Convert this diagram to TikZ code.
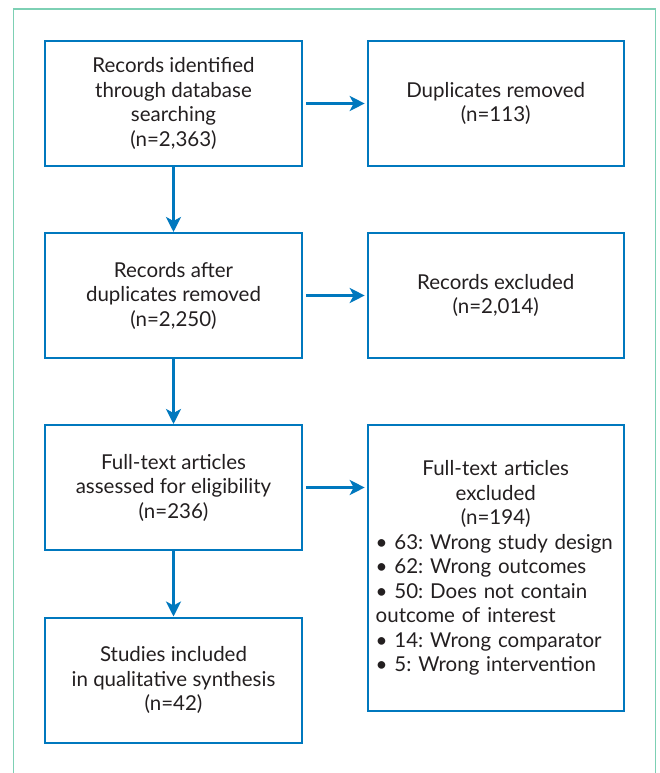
\documentclass[tikz,border=0pt]{standalone}
\usepackage{fontspec}
\setmainfont{Lato}
\usetikzlibrary{arrows.meta}
\definecolor{boxblue}{RGB}{0,120,190}
\definecolor{frameteal}{RGB}{125,208,180}
\definecolor{txt}{RGB}{35,31,32}
\frenchspacing
\begin{document}
\begin{tikzpicture}[x=1pt,y=-1pt,
  box/.style={draw=boxblue, line width=2pt, minimum width=257pt, minimum height=125pt,
    align=center, font=\fontsize{20.5}{24.5}\selectfont, text=txt, inner sep=0pt},
  arr/.style={draw=boxblue, line width=3pt, -{Stealth[length=15pt,width=15pt,inset=4pt]}}]
\useasboundingbox (0,0) rectangle (660,773);
\draw[frameteal, line width=1.5pt] (13.5,773) -- (13.5,9) -- (655.7,9) -- (655.7,773);

\node[box] (b1) at (173.5,103.5) {Records identified\\through database\\searching\\(n=2,363)};
\node[box] (b2) at (173.5,295.5) {Records after\\duplicates removed\\(n=2,250)};
\node[box] (b3) at (173.5,487.5) {Full-text articles\\assessed for eligibility\\(n=236)};
\node[box] (b4) at (173.5,680) {Studies included\\in qualitative synthesis\\(n=42)};

\node[box, minimum width=256pt] (r1) at (495.7,103.5) {Duplicates removed\\(n=113)};
\node[box, minimum width=256pt] (r2) at (495.7,295.5) {Records excluded\\(n=2,014)};
\node[box, minimum width=256pt, minimum height=286pt, text width=240pt, align=left] (r3) at (495.7,568)
  {\centering Full-text articles\\excluded\\(n=194)\par
   \raggedright \mbox{• 63: Wrong study design}\\\mbox{• 62: Wrong outcomes}\\\mbox{• 50: Does not contain}\\\mbox{outcome of interest}\\\mbox{• 14: Wrong comparator}\\\mbox{• 5: Wrong intervention}\par};

\draw[arr] (b1) -- (b2);
\draw[arr] (b2) -- (b3);
\draw[arr] (b3) -- (b4);
\draw[arr, shorten <=3pt, shorten >=2pt] (b1) -- (r1);
\draw[arr, shorten <=3pt, shorten >=2pt] (b2) -- (r2);
\draw[arr, shorten <=3pt, shorten >=2pt] (b3.east) -- (b3.east -| r3.west);
\end{tikzpicture}
\end{document}
